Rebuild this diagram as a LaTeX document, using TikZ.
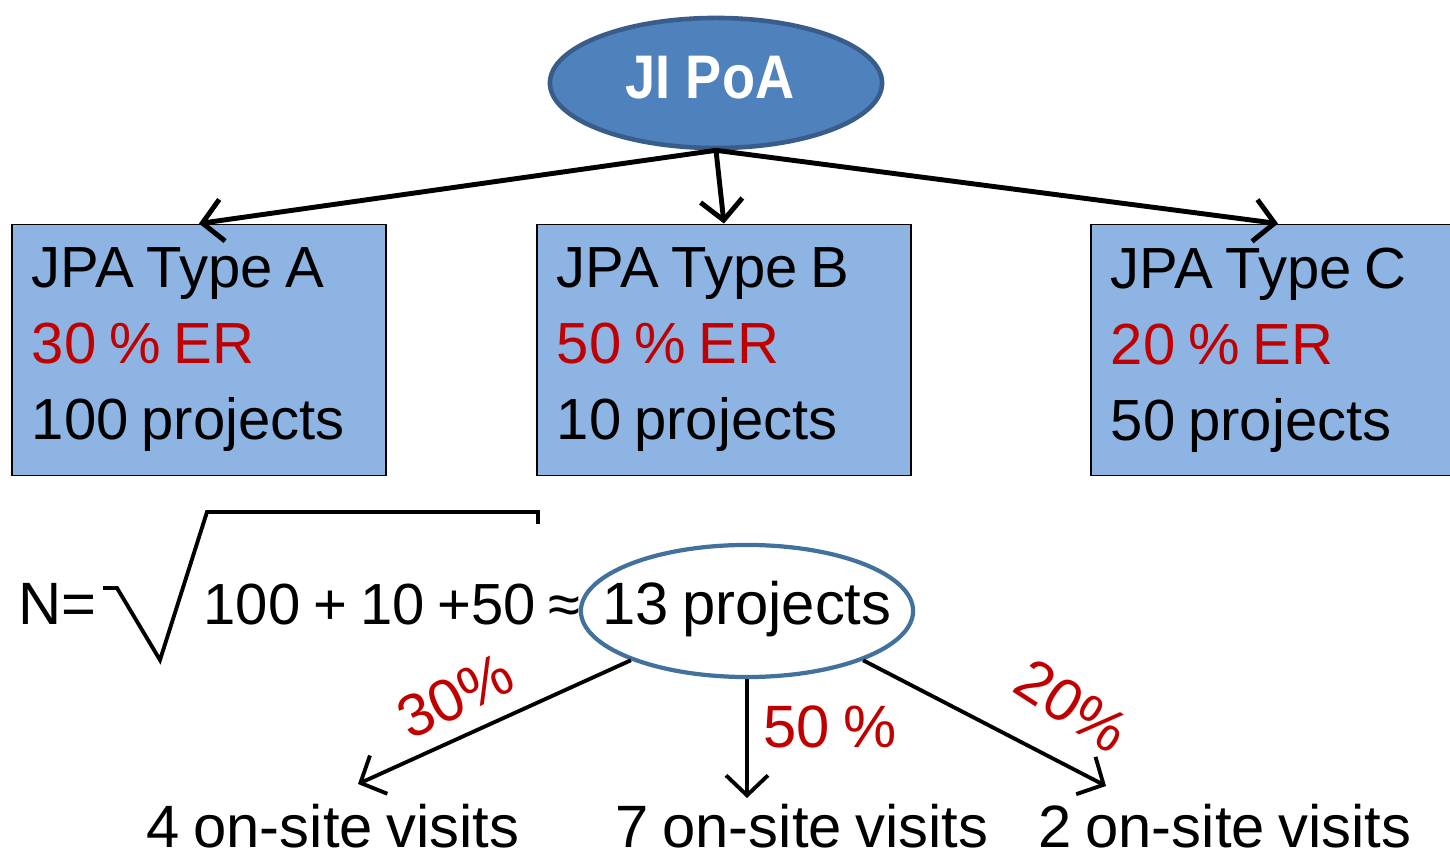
\documentclass[tikz,border=0pt]{standalone}
\usepackage{fontspec}
\setmainfont{Liberation Sans}[WordSpace=0.8]
\newfontfamily\poafont{Liberation Sans}[FakeStretch=0.88]
\usepackage{xcolor}
\usetikzlibrary{positioning,shapes.geometric,arrows.meta}

\definecolor{poablue}{HTML}{4F81BD}
\definecolor{poaedge}{HTML}{385D8A}
\definecolor{jpafill}{HTML}{8DB4E2}
\definecolor{samplering}{HTML}{41719C}
\definecolor{errred}{HTML}{C00000}

\begin{document}
\begin{tikzpicture}[
        x=0.01cm, y=-0.01cm,
        font=\fontsize{16.5}{21.6}\selectfont,
        poa/.style={ellipse, draw=poaedge, line width=1.3pt, fill=poablue, minimum width=3.32cm, minimum height=1.3cm, inner sep=0pt},
        jpa/.style={rectangle, draw, line width=0.5pt, fill=jpafill, minimum width=3.74cm, minimum height=2.51cm, text width=3.34cm, inner xsep=0.2cm, align=flush left},
        sample/.style={ellipse, draw=samplering, line width=1.2pt, fill=white, minimum width=3.32cm, minimum height=1.32cm, inner sep=0pt},
        link/.style={line width=1.4pt, -{Straight Barb[length=2mm, width=4.2mm]}},
        share/.style={text=errred, font=\fontsize{17}{20}\selectfont},
        visits/.style={font=\fontsize{17}{20}\selectfont, anchor=base}
    ]
        \useasboundingbox (0,0) rectangle (1450,858);

        % Plan of activities
        \node[poa] (root) at (716,83) {};
        \node[text=white, font=\fontsize{17.5}{20}\poafont\bfseries] (roottext) at (710,78) {JI PoA};

        % JPA types
        \node[jpa] (typeA) at (199,350) {JPA Type A\\\textcolor{errred}{30 \% ER}\\100 projects};
        \node[jpa] (typeB) at (724,350) {JPA Type B\\\textcolor{errred}{50 \% ER}\\10 projects};
        \node[jpa] (typeC) at (1278,350) {JPA Type C\\\textcolor{errred}{20 \% ER}\\50 projects};

        \draw[link] (root.south) -- (typeA.north);
        \draw[link] (root.south) -- (typeB.north);
        \draw[link] (root.south) -- (typeC.north);

        % Sample size
        \node[sample] (total) at (747,611) {};
        \node[anchor=base west, inner sep=0pt, font=\fontsize{17}{20}\selectfont] (nsize) at (18,625) {N=};
        \node[anchor=base west, inner sep=0pt, font=\fontsize{16.5}{20}\selectfont] (radicand) at (203,625) {100 + 10 +50 ≈};
        \draw[line width=1.1pt] (103,588) -- (117,588) -- (160,660) -- (207,512) -- (538,512) -- (538,524);
        \node[anchor=base, font=\fontsize{17}{20}\selectfont] (totaltext) at (747,625) {13 projects};

        % On-site visits
        \node[visits] (visitsA) at (333,848) {4 on-site visits};
        \node[visits] (visitsB) at (802,848) {7 on-site visits};
        \node[visits] (visitsC) at (1225,848) {2 on-site visits};
        \coordinate (endA) at (358,784);
        \coordinate (endB) at (747,798);
        \coordinate (endC) at (1106,786);

        \draw[link, line width=1.1pt] (total.-157) -- (endA);
        \draw[link, line width=1.1pt] (total.south) -- (endB);
        \draw[link, line width=1.1pt] (total.-23) -- (endC);

        % Shares
        \node[share, rotate=26, inner sep=0pt] (shareA) at (455,696) {30\%};
        \node[share, inner sep=0pt] (shareB) at (830,727) {50 \%};
        \node[share, rotate=-33, inner sep=0pt] (shareC) at (1072,706) {20\%};

    \end{tikzpicture}
\end{document}
